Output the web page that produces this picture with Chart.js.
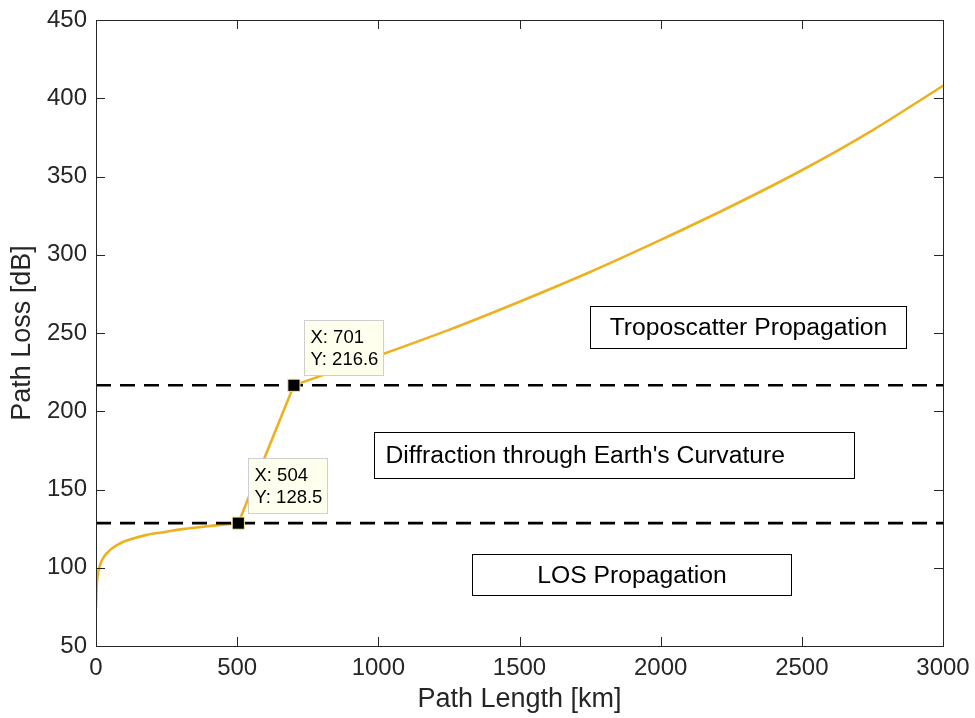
<!DOCTYPE html>
<html>
<head>
<meta charset="utf-8">
<title>Path Loss vs Path Length</title>
<script src="https://cdn.jsdelivr.net/npm/chart.js@4.4.1/dist/chart.umd.min.js"></script>
<style>
  html, body { margin: 0; padding: 0; background: #fff; }
  #wrap { width: 975px; height: 718px; }
</style>
</head>
<body>
<div id="wrap"><canvas id="lossChart" width="975" height="718"></canvas></div>
<script>
"use strict";

// Line-of-sight part of the curve
const losLength = [0, 1, 3, 6, 10, 18, 30, 45, 60, 90, 120, 180, 250, 300, 415, 504];
const losLoss = [75, 82, 90, 95, 99, 103.5, 107.5, 110.5, 112.8, 116, 118, 121, 123, 124.5, 126.9, 128.5];

// Diffraction part
const diffLength = [504, 602, 701];
const diffLoss = [128.5, 172.5, 216.6];

// Troposcatter part
const tropoLength = [701, 850, 1000, 1250, 1500, 1750, 2000, 2250, 2500, 2750, 3000];
const tropoLoss = [216.6, 226, 235.5, 252, 270, 289, 309.5, 331, 354, 379.5, 408];

// Region boundaries marked with data tips
const tipLength = [504, 701];
const tipLoss = [128.5, 216.6];

const xTicks = [0, 500, 1000, 1500, 2000, 2500, 3000];
const yTicks = [50, 100, 150, 200, 250, 300, 350, 400, 450];

const regionLabels = [
  "Troposcatter Propagation",
  "Diffraction through Earth's Curvature",
  "LOS Propagation"
];

const FONT = "'Liberation Sans', Arial, Helvetica, sans-serif";
const AXIS_COLOR = "#262626";
const CURVE_COLOR = "#EDB120";

// Text boxes, in data units
const regionBoxes = [
  { x0: 1750, x1: 2870, y0: 240.2, y1: 267.3, align: "center" },
  { x0: 983, x1: 2685, y0: 157.5, y1: 186.5, align: "left" },
  { x0: 1332, x1: 2460, y0: 82.6, y1: 108.8, align: "center" }
];

function toPoints(xs, ys) {
  return xs.map((x, i) => ({ x, y: ys[i] }));
}

function curveSegment(xs, ys) {
  return {
    data: toPoints(xs, ys),
    borderColor: CURVE_COLOR,
    borderWidth: 2.6,
    borderCapStyle: "round",
    pointRadius: 0,
    cubicInterpolationMode: "monotone",
    order: 3
  };
}

function boundaryLine(level) {
  return {
    data: [
      { x: xTicks[0], y: level },
      { x: xTicks[xTicks.length - 1], y: level }
    ],
    borderColor: "#000",
    borderWidth: 2.6,
    borderDash: [15, 9],
    pointRadius: 0,
    order: 2
  };
}

// Box round the axes with inward ticks on every side
const axesBox = {
  id: "axesBox",
  afterDatasetsDraw(chart) {
    const { ctx, chartArea: a, scales: { x, y } } = chart;
    const len = 9;
    ctx.save();
    ctx.strokeStyle = AXIS_COLOR;
    ctx.lineWidth = 1;
    ctx.beginPath();
    xTicks.forEach(v => {
      const px = Math.round(x.getPixelForValue(v)) + 0.5;
      ctx.moveTo(px, a.bottom); ctx.lineTo(px, a.bottom - len);
      ctx.moveTo(px, a.top); ctx.lineTo(px, a.top + len);
    });
    yTicks.forEach(v => {
      const py = Math.round(y.getPixelForValue(v)) + 0.5;
      ctx.moveTo(a.left, py); ctx.lineTo(a.left + len, py);
      ctx.moveTo(a.right, py); ctx.lineTo(a.right - len, py);
    });
    ctx.stroke();
    ctx.strokeRect(Math.round(a.left) + 0.5, Math.round(a.top) + 0.5,
      Math.round(a.right - a.left), Math.round(a.bottom - a.top));
    ctx.restore();
  }
};

// Region name boxes
const regionText = {
  id: "regionText",
  afterDatasetsDraw(chart) {
    const { ctx, scales: { x, y } } = chart;
    ctx.save();
    ctx.font = `24.7px ${FONT}`;
    ctx.textBaseline = "middle";
    regionBoxes.forEach((box, i) => {
      const left = Math.round(x.getPixelForValue(box.x0)) + 0.5;
      const right = Math.round(x.getPixelForValue(box.x1)) + 0.5;
      const top = Math.round(y.getPixelForValue(box.y1)) + 0.5;
      const bottom = Math.round(y.getPixelForValue(box.y0)) + 0.5;
      ctx.strokeStyle = "#000";
      ctx.lineWidth = 1;
      ctx.strokeRect(left, top, right - left, bottom - top);
      ctx.fillStyle = "#000";
      const midY = (top + bottom) / 2 + 1;
      if (box.align === "left") {
        ctx.textAlign = "left";
        ctx.fillText(regionLabels[i], left + 11, midY);
      } else {
        ctx.textAlign = "center";
        ctx.fillText(regionLabels[i], (left + right) / 2, midY);
      }
    });
    ctx.restore();
  }
};

// Data tip labels next to the boundary markers
const dataTips = {
  id: "dataTips",
  afterDraw(chart) {
    const { ctx, scales: { x, y } } = chart;
    const w = 79, h = 55;
    ctx.save();
    ctx.font = `18.5px ${FONT}`;
    ctx.textAlign = "left";
    ctx.textBaseline = "middle";
    tipLength.forEach((len, i) => {
      const px = x.getPixelForValue(len);
      const py = y.getPixelForValue(tipLoss[i]);
      const left = Math.round(px + 10) + 0.5;
      const top = Math.round(py - 10 - h) + 0.5;
      ctx.fillStyle = "#FFFFEE";
      ctx.fillRect(left, top, w, h);
      ctx.strokeStyle = "#CFCFCF";
      ctx.lineWidth = 1;
      ctx.strokeRect(left, top, w, h);
      ctx.fillStyle = "#000";
      ctx.fillText(`X: ${len}`, left + 6, top + 17.5);
      ctx.fillText(`Y: ${tipLoss[i].toFixed(1)}`, left + 6, top + 39);
    });
    ctx.restore();
  }
};

const ctx = document.getElementById("lossChart").getContext("2d");

new Chart(ctx, {
  type: "line",
  data: {
    datasets: [
      curveSegment(losLength, losLoss),
      curveSegment(diffLength, diffLoss),
      curveSegment(tropoLength, tropoLoss),
      boundaryLine(tipLoss[0]),
      boundaryLine(tipLoss[1]),
      {
        type: "scatter",
        data: toPoints(tipLength, tipLoss),
        pointStyle: "rect",
        pointRadius: 8.6,
        backgroundColor: "#000",
        borderColor: "#F6E7A8",
        borderWidth: 1,
        order: 1
      }
    ]
  },
  options: {
    responsive: false,
    animation: false,
    events: [],
    layout: { padding: { top: 20, right: 32, left: 0, bottom: 0 } },
    plugins: {
      legend: { display: false },
      tooltip: { enabled: false }
    },
    scales: {
      x: {
        type: "linear",
        min: 0,
        max: 3000,
        afterBuildTicks: s => { s.ticks = xTicks.map(value => ({ value })); },
        afterFit: s => {
          s.height = 72;
          s.paddingLeft = 0;
          s.paddingRight = 0;
        },
        grid: { display: false, drawTicks: false },
        border: { display: false },
        ticks: {
          color: AXIS_COLOR,
          padding: 8,
          maxRotation: 0,
          callback: value => String(value),
          font: { family: FONT, size: 24 }
        },
        title: {
          display: true,
          text: "Path Length [km]",
          color: AXIS_COLOR,
          padding: { top: 2, bottom: 2 },
          font: { family: FONT, size: 27 }
        }
      },
      y: {
        type: "linear",
        min: 50,
        max: 450,
        afterBuildTicks: s => { s.ticks = yTicks.map(value => ({ value })); },
        afterFit: s => {
          s.width = 96;
          s.paddingTop = 0;
          s.paddingBottom = 0;
        },
        grid: { display: false, drawTicks: false },
        border: { display: false },
        ticks: {
          color: AXIS_COLOR,
          padding: 9,
          callback: value => String(value),
          font: { family: FONT, size: 24 }
        },
        title: {
          display: true,
          text: "Path Loss [dB]",
          color: AXIS_COLOR,
          padding: { top: 6, bottom: 0 },
          font: { family: FONT, size: 27 }
        }
      }
    }
  },
  plugins: [axesBox, regionText, dataTips]
});
</script>
</body>
</html>
